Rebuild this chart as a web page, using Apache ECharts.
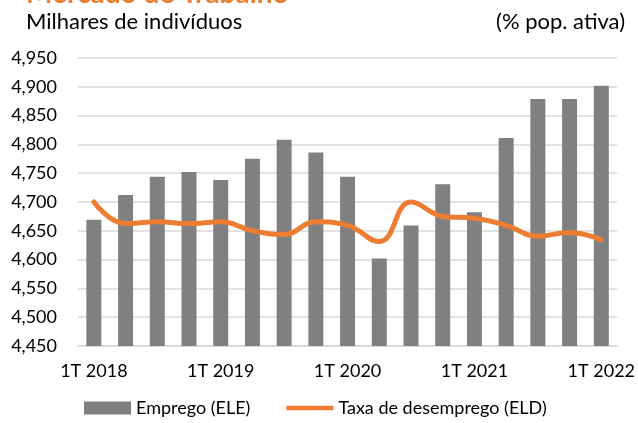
<!DOCTYPE html>
<html>
<head>
<meta charset="utf-8">
<script src="https://cdn.jsdelivr.net/npm/echarts@6/dist/echarts.min.js"></script>
<style>html,body{margin:0;padding:0;background:#fff}#c{width:638px;height:423px}</style>
</head>
<body>
<div id="c"></div>
<script>
const categories = ['1T 2018','2T 2018','3T 2018','4T 2018','1T 2019','2T 2019','3T 2019','4T 2019','1T 2020','2T 2020','3T 2020','4T 2020','1T 2021','2T 2021','3T 2021','4T 2021','1T 2022'];
const emprego = [4669, 4712, 4744, 4752, 4738, 4775, 4808, 4786, 4744, 4602, 4659, 4731, 4682, 4811, 4879, 4879, 4902];
const desemprego = [8.0, 6.8, 6.9, 6.8, 6.9, 6.4, 6.2, 6.9, 6.7, 5.8, 8.0, 7.2, 7.1, 6.7, 6.1, 6.3, 5.9];
const leftTicks = {min: 4450, max: 4950, interval: 50};

const FONT = 'Lato';
const chart = echarts.init(document.getElementById('c'));
chart.setOption({
  animation: false,
  textStyle: {fontFamily: FONT},
  graphic: [
    {type: 'text', x: 26, y: 8, silent: true, style: {text: 'Mercado de Trabalho', fontFamily: FONT, fontSize: 28, fontWeight: 'bold', fill: '#ED7D31', verticalAlign: 'bottom', textVerticalAlign: 'bottom'}},
    {type: 'text', left: 26, top: 11, style: {text: 'Milhares de indivíduos', fontFamily: FONT, fontSize: 22, fill: '#000'}},
    {type: 'text', right: 13, top: 11, style: {text: '(% pop. ativa)', fontFamily: FONT, fontSize: 22, fill: '#000'}}
  ],
  grid: {left: 78, right: 20, top: 58, bottom: 77, containLabel: false},
  legend: {
    bottom: 1, left: 79, itemGap: 36, itemWidth: 47, itemHeight: 13,
    textStyle: {fontFamily: FONT, fontSize: 18, color: '#000'},
    data: [
      {name: 'Emprego (ELE)', icon: 'rect'},
      {name: 'Taxa de desemprego (ELD)', icon: 'path://M0,0L0.01,0M0,4.2L47,4.2L47,8.8L0,8.8ZM47,13L47,13.01'}
    ]
  },
  xAxis: {
    type: 'category', data: categories,
    axisLine: {lineStyle: {color: '#d9d9d9', width: 1.5}},
    axisTick: {show: false},
    axisLabel: {interval: 3, fontSize: 18, color: '#000', margin: 16, fontFamily: FONT}
  },
  yAxis: [
    {
      type: 'value', min: leftTicks.min, max: leftTicks.max, interval: leftTicks.interval,
      axisLine: {show: false}, axisTick: {show: false},
      splitLine: {lineStyle: {color: '#d9d9d9', width: 1.5}},
      axisLabel: {fontSize: 18, color: '#000', margin: 21, fontFamily: FONT,
        formatter: v => v.toLocaleString('en-US')}
    },
    {type: 'value', min: 0, max: 16, show: false, splitLine: {show: false}}
  ],
  series: [
    {name: 'Emprego (ELE)', type: 'bar', data: emprego, barWidth: 15,
     itemStyle: {color: '#808080'}},
    {name: 'Taxa de desemprego (ELD)', type: 'line', yAxisIndex: 1, data: desemprego,
     smooth: 0.45, symbol: 'none', lineStyle: {color: '#ED7D31', width: 5, cap: 'round'},
     itemStyle: {color: '#ED7D31'}}
  ]
});
</script>
</body>
</html>
